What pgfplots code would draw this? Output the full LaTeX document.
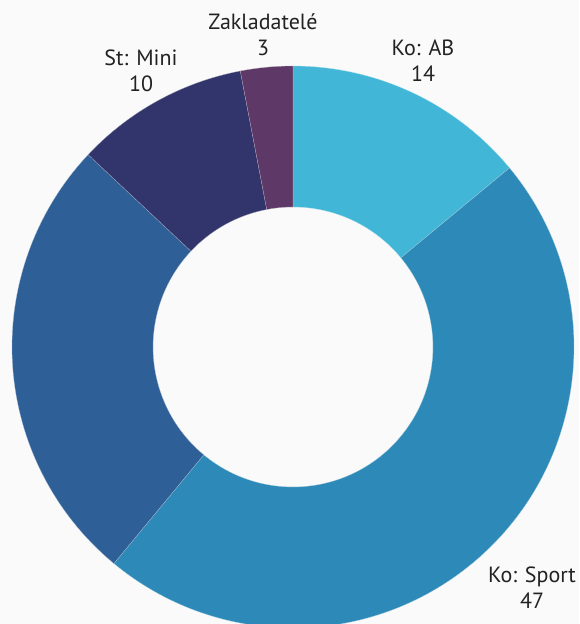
\documentclass[border=0pt]{standalone}
\usepackage{pgfplots}
\usepackage{pgfplotstable}
\pgfplotsset{compat=1.18}
\usepackage{fontspec}
\setmainfont{PT Sans}
\definecolor{bg}{HTML}{FAFAFA}
\definecolor{cAB}{HTML}{41B6D6}
\definecolor{cSport}{HTML}{2D8AB8}
\definecolor{cX}{HTML}{2E5F97}
\definecolor{cMini}{HTML}{31356B}
\definecolor{cZak}{HTML}{5E3866}
\definecolor{txt}{HTML}{222222}

\pgfplotstableread{
label value
AB 14
Sport 47
Other 26
Mini 10
Zak 3
}\data

\pgfplotstablegetelem{0}{value}\of\data \let\vA\pgfplotsretval
\pgfplotstablegetelem{1}{value}\of\data \let\vB\pgfplotsretval
\pgfplotstablegetelem{2}{value}\of\data \let\vC\pgfplotsretval
\pgfplotstablegetelem{3}{value}\of\data \let\vD\pgfplotsretval
\pgfplotstablegetelem{4}{value}\of\data \let\vE\pgfplotsretval
\pgfmathsetmacro\total{\vA+\vB+\vC+\vD+\vE}
\pgfmathsetmacro\aA{90}
\pgfmathsetmacro\aB{\aA-360*(\vA/\total)}
\pgfmathsetmacro\aC{\aB-360*(\vB/\total)}
\pgfmathsetmacro\aD{\aC-360*(\vC/\total)}
\pgfmathsetmacro\aE{\aD-360*(\vD/\total)}
\pgfmathsetmacro\aF{\aE-360*(\vE/\total)}

\newcommand\slice[3]{%
  \fill[#3,draw=bg!60!#3,line width=0.25pt] (axis cs:{281*cos(#1)},{281*sin(#1)})
    arc[start angle=#1,end angle=#2,radius=281pt]
    -- (axis cs:{140*cos(#2)},{140*sin(#2)})
    arc[start angle=#2,end angle=#1,radius=140pt] -- cycle;}

\begin{document}
\begin{tikzpicture}
\begin{axis}[
  name=ax,
  x=1pt, y=1pt,
  xmin=-293, xmax=286, ymin=-277, ymax=347,
  hide axis,
  clip=false,
]
\fill[bg] (axis cs:-293,-277) rectangle (axis cs:286,347);
\slice{\aA}{\aB}{cAB}
\slice{\aB}{\aC}{cSport}
\slice{\aC}{\aD}{cX}
\slice{\aD}{\aE}{cMini}
\slice{\aE}{\aF}{cZak}
\begin{scope}[every node/.style={align=center,text=txt,font=\fontsize{22}{26}\selectfont}]
\node at (axis cs:-30,312.5) {Zakladatelé\\3};
\node at (axis cs:-152,276.5) {St: Mini\\10};
\node at (axis cs:130,286.5) {Ko: AB\\14};
\node at (axis cs:239,-240.5) {Ko: Sport\\47};
\end{scope}
\end{axis}
\pgfresetboundingbox
\path[use as bounding box] (ax.south west) rectangle (ax.north east);
\end{tikzpicture}
\end{document}
